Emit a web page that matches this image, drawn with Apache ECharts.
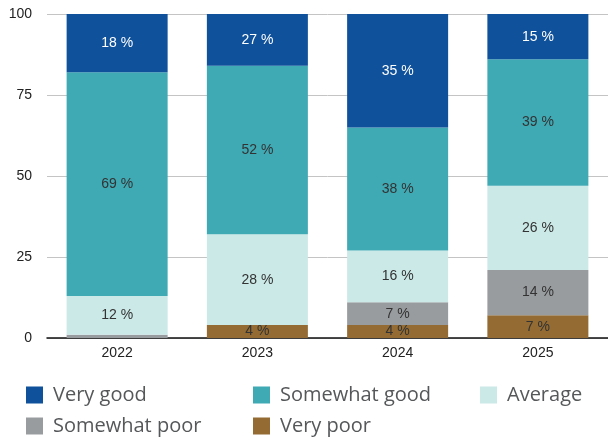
<!DOCTYPE html>
<html>
<head>
<meta charset="utf-8">
<script src="https://cdn.jsdelivr.net/npm/echarts@6/dist/echarts.min.js"></script>
<style>
  html, body { margin: 0; padding: 0; background: #fff; }
  #chart { width: 608px; height: 439px; }
</style>
</head>
<body>
<div id="chart"></div>
<script>
// Survey ratings by year, in percent
const years = ['2022', '2023', '2024', '2025'];
const yTicks = [0, 25, 50, 75, 100];

const veryGood     = [18, 27, 35, 15];
const somewhatGood = [69, 52, 38, 39];
const average      = [12, 28, 16, 26];
const somewhatPoor = [1, 0, 7, 14];
const veryPoor     = [0, 4, 4, 7];

const colors = {
  'Very good': '#0f519b',
  'Somewhat good': '#3fa9b4',
  'Average': '#cbe9e7',
  'Somewhat poor': '#999c9e',
  'Very poor': '#936b33'
};

const labelFont = 'Liberation Sans, Helvetica, Arial, sans-serif';
const legendFont = 'Open Sans, Noto Sans, sans-serif';

function makeSeries(name, values, textColor) {
  return {
    name: name,
    type: 'bar',
    stack: 'total',
    data: values,
    barWidth: 101,
    itemStyle: { color: colors[name] },
    label: {
      show: true,
      position: 'inside',
      color: textColor,
      fontFamily: labelFont,
      fontSize: 14,
      formatter: p => (p.value >= 2 ? p.value + ' %' : '')
    },
    emphasis: { disabled: true }
  };
}

// One legend entry per component so the entries sit on a fixed 3-column grid
function legendItem(name, left, top) {
  return {
    left: left,
    top: top,
    padding: 0,
    itemWidth: 17,
    itemHeight: 17,
    icon: 'rect',
    selectedMode: false,
    data: [name],
    textStyle: {
      fontFamily: legendFont,
      fontSize: 20,
      color: '#555759',
      padding: [0, 0, 0, 5]
    }
  };
}

const chart = echarts.init(document.getElementById('chart'), null, { renderer: 'canvas' });

chart.setOption({
  animation: false,
  grid: { left: 47, right: -2, top: 14, bottom: 101, containLabel: false },
  legend: [
    legendItem('Very good', 26, 385),
    legendItem('Somewhat good', 253, 385),
    legendItem('Average', 480, 385),
    legendItem('Somewhat poor', 26, 416),
    legendItem('Very poor', 253, 416)
  ],
  xAxis: {
    type: 'category',
    data: years,
    axisLine: { lineStyle: { color: '#111', width: 1.5 } },
    axisTick: { show: false },
    axisLabel: {
      color: '#222',
      fontFamily: labelFont,
      fontSize: 14,
      margin: 8
    }
  },
  yAxis: {
    type: 'value',
    min: yTicks[0],
    max: yTicks[yTicks.length - 1],
    interval: 25,
    axisLine: { show: false },
    axisTick: { show: false },
    splitLine: { lineStyle: { color: '#c4c4c4', width: 1 } },
    axisLabel: {
      color: '#222',
      fontFamily: labelFont,
      fontSize: 14,
      margin: 15
    }
  },
  series: [
    makeSeries('Very poor', veryPoor, '#333'),
    makeSeries('Somewhat poor', somewhatPoor, '#333'),
    makeSeries('Average', average, '#333'),
    makeSeries('Somewhat good', somewhatGood, '#333'),
    makeSeries('Very good', veryGood, '#fff')
  ]
});
</script>
</body>
</html>
